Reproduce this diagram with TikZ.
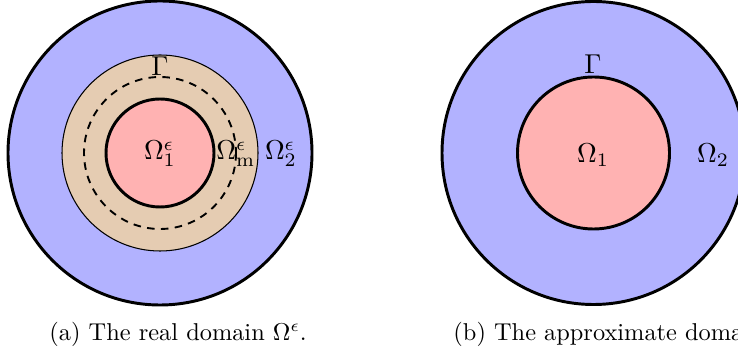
\documentclass[tikz,border=0pt]{standalone}
\begin{document}
\begin{tikzpicture}[x=0.476pt,y=-0.476pt,
  region/.style={draw=black,line width=1.4pt},
  thinrim/.style={draw=black,line width=0.5pt},
  interface/.style={draw=black,line width=0.9pt,dash pattern=on 3.6pt off 3pt},
  lab/.style={inner sep=0pt,scale=1.3},
  captext/.style={inner sep=0pt,scale=1.16,anchor=west}]
\useasboundingbox (0,0) rectangle (738,354);
\clip (0,0) rectangle (738,354);
% (a) real domain
\coordinate (ca) at (160,153);
\fill[blue!30] (ca) circle (152);
\draw[thinrim,fill=brown!40] (ca) circle (98);
\draw[interface] (ca) circle (76);
\draw[region,fill=red!30] (ca) circle (54);
\draw[region] (ca) circle (152);
\node[lab] (ga) at (160,66) {$\Gamma$};
\node[lab] (o1a) at (160,154) {$\Omega_1^\epsilon$};
\node[lab] (oma) at (236,154) {$\Omega_{\mathrm{m}}^\epsilon$};
\node[lab] (o2a) at (281,154) {$\Omega_2^\epsilon$};
\node[captext] (capa) at (49,334) {(a) The real domain $\Omega^\epsilon$.};
% (b) approximate domain
\coordinate (cb) at (593.5,153);
\fill[blue!30] (cb) circle (151.5);
\draw[region,fill=red!30] (cb) circle (76);
\draw[region] (cb) circle (151.5);
\node[lab] (gb) at (593,64) {$\Gamma$};
\node[lab] (o1b) at (593,155) {$\Omega_1$};
\node[lab] (o2b) at (713,155) {$\Omega_2$};
\node[captext] (capb) at (453,334) {(b) The approximate domain $\Omega$.};
\end{tikzpicture}
\end{document}
